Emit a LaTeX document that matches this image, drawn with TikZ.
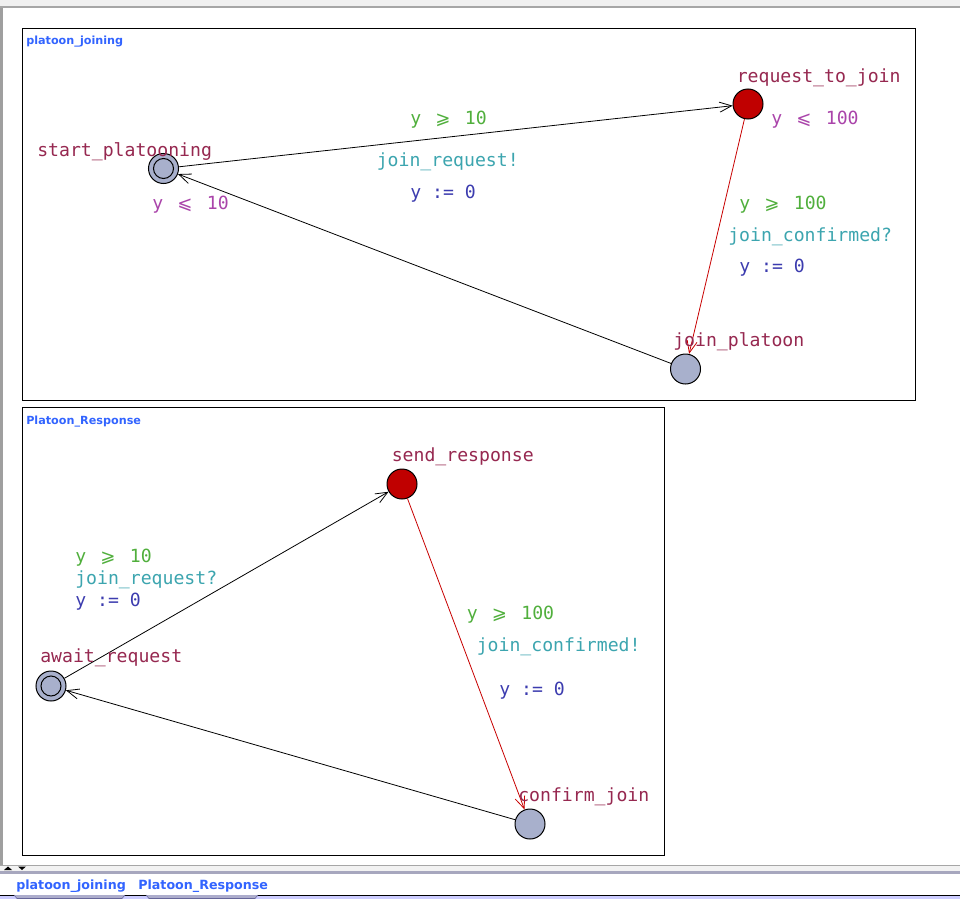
\documentclass[tikz,border=0pt]{standalone}
\usepackage{fontspec}
\setmainfont{DejaVu Sans}
\newfontfamily\monof{DejaVu Sans Mono}
\newfontfamily\symf{DejaVu Sans}
\usetikzlibrary{arrows.meta}
\definecolor{namec}{RGB}{150,40,80}
\definecolor{invc}{RGB}{170,68,170}
\definecolor{guardc}{RGB}{80,175,60}
\definecolor{syncc}{RGB}{60,165,175}
\definecolor{updc}{RGB}{60,60,175}
\definecolor{titleblue}{RGB}{50,100,255}
\definecolor{locgray}{RGB}{168,176,204}
\definecolor{locred}{RGB}{192,0,0}
\definecolor{edgered}{RGB}{200,0,0}
\definecolor{lavender}{RGB}{204,204,255}
\newcommand{\geqsym}{\makebox[1.204em][c]{\symf ⩾}}
\newcommand{\leqsym}{\makebox[1.204em][c]{\symf ⩽}}
\tikzset{
  loc/.style={circle, draw=black, line width=0.75pt, fill=locgray, minimum size=22.5pt, inner sep=0pt},
  redloc/.style={loc, fill=locred},
  lbl/.style={anchor=mid west, inner sep=0pt, yshift=-1.9pt, font=\monof\fontsize{13.6}{16}\selectfont},
  lname/.style={lbl, text=namec},
  linv/.style={lbl, text=invc},
  lguard/.style={lbl, text=guardc},
  lsync/.style={lbl, text=syncc},
  lupd/.style={lbl, text=updc},
  edge/.style={-{Straight Barb[length=9pt,width=7.5pt]}, line width=0.6pt, draw=black},
  rededge/.style={edge, draw=edgered},
  frame/.style={draw=black, line width=0.7pt},
  ttl/.style={anchor=mid west, inner sep=0pt, text=titleblue, font=\bfseries\fontsize{8.4}{10}\selectfont},
  tab/.style={anchor=mid west, inner sep=0pt, text=titleblue, font=\bfseries\fontsize{9.5}{11}\selectfont}
}
\begin{document}
\begin{tikzpicture}[x=0.75pt,y=-0.75pt]
\useasboundingbox (0,0) rectangle (960,899);
% window chrome
\fill[white] (0,0) rectangle (960,899);
\fill[gray!12] (0,0) rectangle (960,6);
\fill[gray!70] (0,6) rectangle (960,8);
\fill[gray!75] (0,8) rectangle (2.5,866);
\fill[gray!70] (0,864.5) rectangle (960,866);
\fill[gray!10] (0,866) rectangle (960,871);
\fill[gray!85!blue!60] (0,871) rectangle (960,873.5);
\fill[black] (4,870) -- (8,866.5) -- (12,870) -- cycle;
\fill[black] (18,866.5) -- (26,866.5) -- (22,870) -- cycle;
\fill[black] (0,894.5) rectangle (960,896);
\fill[lavender] (0,896) rectangle (960,899);
\draw[gray!80!blue, fill=gray!40!lavender] (14,895) -- (17,898.5) -- (122,898.5) -- (125,895);
\draw[gray!80!blue, fill=gray!40!lavender] (146,895) -- (149,898.5) -- (255,898.5) -- (258,895);
\node[tab] (tab1) at (16,885.5) {platoon\_joining};
\node[tab] (tab2) at (138,885.5) {Platoon\_Response};

% frames
\draw[frame] (22,28) rectangle (915,400);
\draw[frame] (22,407.5) rectangle (664,855);
\node[ttl] (t1) at (26,40.5) {platoon\_joining};
\node[ttl] (t2) at (26,420.5) {Platoon\_Response};

% ---- platoon_joining ----
\node[loc] (sp) at (163.5,168.5) {};
\draw[line width=0.75pt] (sp.center) circle[radius=7.5pt];
\node[redloc] (rj) at (748,104) {};
\node[loc] (jp) at (685.5,369) {};

\draw[edge] (sp) -- (rj);
\draw[rededge] (rj) -- (jp);
\draw[edge] (jp) -- (sp);

\node[lname] (n1) at (37,150) {start\_platooning};
\node[linv] (i1) at (152,203) {y \leqsym{} 10};
\node[lname] (n2) at (736.5,76) {request\_to\_join};
\node[linv] (i2) at (771,118.5) {y \leqsym{} 100};
\node[lname] (n3) at (673,340) {join\_platoon};

\node[lguard] (g1) at (410,118) {y \geqsym{} 10};
\node[lsync] (s1) at (376.5,160) {join\_request!};
\node[lupd] (u1) at (410,192) {y := 0};

\node[lguard] (g2) at (739,203) {y \geqsym{} 100};
\node[lsync] (s2) at (728,235) {join\_confirmed?};
\node[lupd] (u2) at (739,266) {y := 0};

% ---- Platoon_Response ----
\node[redloc] (sr) at (402,484) {};
\node[loc] (ar) at (51,686) {};
\draw[line width=0.75pt] (ar.center) circle[radius=7.5pt];
\node[loc] (cj) at (530,824) {};

\draw[edge] (ar) -- (sr);
\draw[rededge] (sr) -- (cj);
\draw[edge] (cj) -- (ar);

\node[lname] (n4) at (391.5,455) {send\_response};
\node[lname] (n5) at (40,656) {await\_request};
\node[lname] (n6) at (518,795) {confirm\_join};

\node[lguard] (g3) at (75,556.5) {y \geqsym{} 10};
\node[lsync] (s3) at (75,578) {join\_request?};
\node[lupd] (u3) at (75,600) {y := 0};

\node[lguard] (g4) at (466.5,613.5) {y \geqsym{} 100};
\node[lsync] (s4) at (476.5,645.5) {join\_confirmed!};
\node[lupd] (u4) at (499,689) {y := 0};
\end{tikzpicture}
\end{document}
